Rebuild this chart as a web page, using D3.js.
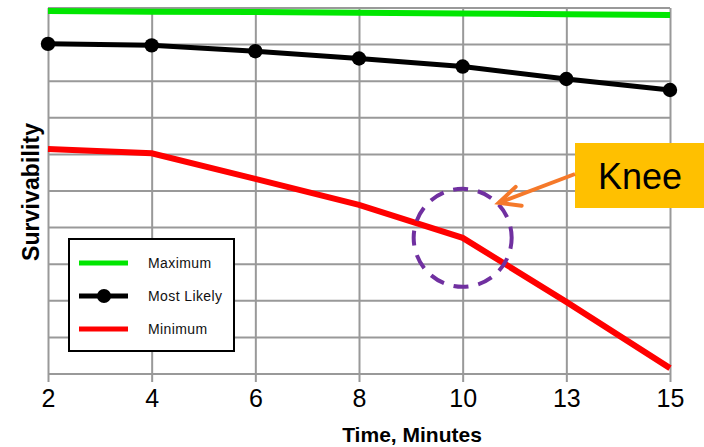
<!DOCTYPE html>
<html>
<head>
<meta charset="utf-8">
<script src="https://cdn.jsdelivr.net/npm/d3@7"></script>
<style>
  html, body { margin: 0; padding: 0; background: #fff; }
  svg { display: block; font-family: "Liberation Sans", Arial, sans-serif; }
</style>
</head>
<body>
<svg id="chart" width="704" height="447"></svg>
<script>
// ---- data ----
const categories = ["2", "4", "6", "8", "10", "13", "15"];
const maximumValues = [0.992, 0.990, 0.989, 0.987, 0.985, 0.983, 0.981];
const mostLikelyValues = [0.902, 0.898, 0.882, 0.862, 0.840, 0.806, 0.776];
const minimumValues = [0.615, 0.603, 0.533, 0.462, 0.372, 0.197, 0.016];
const yGridValues = [0, 0.1, 0.2, 0.3, 0.4, 0.5, 0.6, 0.7, 0.8, 0.9, 1.0];
const seriesNames = ["Maximum", "Most Likely", "Minimum"];
const xTitle = "Time, Minutes";
const yTitle = "Survivability";
const annotationText = "Knee";
const kneeCategory = "10";
const kneeValue = 0.372;

// ---- layout ----
const svg = d3.select("#chart");
const plot = { left: 48, right: 670, top: 8, bottom: 374 };

const x = d3.scalePoint().domain(categories).range([plot.left, plot.right]).padding(0);
const y = d3.scaleLinear().domain([0, 1]).range([plot.bottom, plot.top]);

const grid = "#999999";

// horizontal gridlines
svg.append("g").selectAll("line").data(yGridValues).join("line")
  .attr("x1", plot.left).attr("x2", plot.right)
  .attr("y1", d => y(d)).attr("y2", d => y(d))
  .attr("stroke", grid).attr("stroke-width", 2);

// vertical gridlines + ticks via axis
const xAxis = d3.axisBottom(x).tickSize(plot.bottom - plot.top + 8).tickPadding(8);
const gx = svg.append("g").attr("transform", `translate(0,${plot.top})`).call(xAxis);
gx.select(".domain").remove();
gx.selectAll(".tick line").attr("stroke", grid).attr("stroke-width", 2);
gx.selectAll(".tick text")
  .attr("fill", "#000")
  .attr("font-size", 25)
  .attr("font-family", "Liberation Sans, Arial, sans-serif")
  .attr("dy", "0.71em")
  .attr("y", plot.bottom - plot.top + 15);

// axis titles
svg.append("text")
  .attr("x", 412).attr("y", 442)
  .attr("text-anchor", "middle")
  .attr("font-size", 21).attr("font-weight", "bold")
  .text(xTitle);

svg.append("text")
  .attr("transform", "translate(39,192) rotate(-90)")
  .attr("text-anchor", "middle")
  .attr("font-size", 23).attr("font-weight", "bold").attr("letter-spacing", 0.1)
  .text(yTitle);

// lines
const line = d3.line().x((d, i) => x(categories[i])).y(d => y(d));

svg.append("path").datum(maximumValues)
  .attr("d", line).attr("fill", "none")
  .attr("stroke", "#00e600").attr("stroke-width", 6);

svg.append("path").datum(mostLikelyValues)
  .attr("d", line).attr("fill", "none")
  .attr("stroke", "#000").attr("stroke-width", 5);
svg.append("g").selectAll("circle").data(mostLikelyValues).join("circle")
  .attr("cx", (d, i) => x(categories[i])).attr("cy", d => y(d))
  .attr("r", 7.2).attr("fill", "#000");

svg.append("path").datum(minimumValues)
  .attr("d", line).attr("fill", "none")
  .attr("stroke", "#ff0000").attr("stroke-width", 6);

// knee annotation circle
const kx = x(kneeCategory), ky = y(kneeValue);
svg.append("circle")
  .attr("cx", kx).attr("cy", ky).attr("r", 49)
  .attr("fill", "none").attr("stroke", "#7030a0")
  .attr("stroke-width", 4).attr("stroke-dasharray", "15 10")
  .attr("stroke-dashoffset", 4);

// knee box
svg.append("rect")
  .attr("x", 575).attr("y", 143).attr("width", 129).attr("height", 65)
  .attr("fill", "#ffc000");
svg.append("text")
  .attr("x", 640).attr("y", 189)
  .attr("text-anchor", "middle")
  .attr("font-size", 36)
  .text(annotationText);

// arrow
const orange = "#f5792a";
svg.append("line")
  .attr("x1", 575).attr("y1", 174).attr("x2", kx + 36).attr("y2", ky - 35)
  .attr("stroke", orange).attr("stroke-width", 4);
svg.append("polyline")
  .attr("points", `${kx + 53},${ky - 51} ${kx + 36},${ky - 35} ${kx + 59},${ky - 32}`)
  .attr("fill", "none").attr("stroke", orange).attr("stroke-width", 4)
  .attr("stroke-linecap", "round").attr("stroke-linejoin", "miter");

// legend
const lg = svg.append("g");
lg.append("rect")
  .attr("x", 69).attr("y", 239).attr("width", 165).attr("height", 112)
  .attr("fill", "#fff").attr("stroke", "#000").attr("stroke-width", 2);
const legendColors = ["#00e600", "#000", "#ff0000"];
const legendY = d3.scalePoint().domain(seriesNames).range([263, 329]);
seriesNames.forEach((name, i) => {
  const yy = legendY(name);
  lg.append("line").attr("x1", 79).attr("x2", 128).attr("y1", yy).attr("y2", yy)
    .attr("stroke", legendColors[i]).attr("stroke-width", 5);
  if (i === 1) {
    lg.append("circle").attr("cx", 104).attr("cy", yy).attr("r", 7).attr("fill", "#000");
  }
  lg.append("text").attr("x", 148).attr("y", yy + 5)
    .attr("font-size", 14).attr("letter-spacing", 0.4).attr("fill", "#111")
    .text(name);
});
</script>
</body>
</html>
